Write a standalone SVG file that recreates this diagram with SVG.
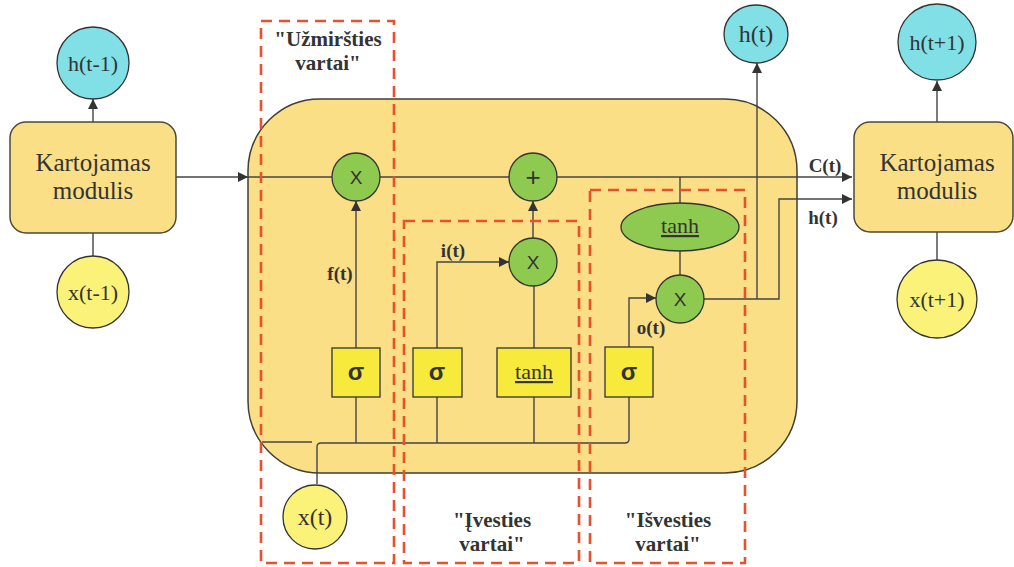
<svg xmlns="http://www.w3.org/2000/svg" width="1014" height="567" viewBox="0 0 1014 567">
<defs>
<style>
.mod{fill:#fadf86;stroke:#4a4a3a;stroke-width:1.5}
.cell{fill:#fadf86;stroke:#3f3f35;stroke-width:1.5}
.cy{fill:#80e0e6;stroke:#333;stroke-width:1.3}
.ye{fill:#fbf27a;stroke:#333;stroke-width:1.3}
.gr{fill:#8fca50;stroke:#333;stroke-width:1.3}
.sb{fill:#f7ea3c;stroke:#333;stroke-width:1.3}
.ln{fill:none;stroke:#444;stroke-width:1.4}
.dash{fill:none;stroke:#e9502e;stroke-width:2.6;stroke-dasharray:11 7}
.t{font-family:'Liberation Serif','Times New Roman','DejaVu Serif',serif;fill:#333;text-anchor:middle}
.tb{font-family:'Liberation Serif','Times New Roman','DejaVu Serif',serif;font-weight:700;fill:#333;text-anchor:middle}
.ts{font-family:'Liberation Sans',Arial,sans-serif;fill:#333;text-anchor:middle}
</style>
<marker id="ah" viewBox="0 0 10 10" refX="10" refY="5" markerWidth="10" markerHeight="10" markerUnits="userSpaceOnUse" orient="auto">
<path d="M0,0 L10,5 L0,10 z" fill="#333"/>
</marker>
</defs>

<g id="cell">
<rect class="cell" x="248" y="99" width="549" height="374" rx="72" ry="72"/>
</g>

<g id="connectors">
<line class="ln" x1="93" y1="122" x2="93" y2="99" marker-end="url(#ah)"/>
<line class="ln" x1="93" y1="233" x2="93" y2="257"/>
<line class="ln" x1="176" y1="177" x2="248" y2="177" marker-end="url(#ah)"/>
<line class="ln" x1="248" y1="177" x2="852" y2="177" marker-end="url(#ah)"/>
<line class="ln" x1="356" y1="443" x2="356" y2="201" marker-end="url(#ah)"/>
<polyline class="ln" points="437,443 437,262 509,262" marker-end="url(#ah)"/>
<line class="ln" x1="533" y1="238" x2="533" y2="201" marker-end="url(#ah)"/>
<line class="ln" x1="534" y1="443" x2="534" y2="286"/>
<polyline class="ln" points="629,348 629,298 656,298" marker-end="url(#ah)"/>
<line class="ln" x1="680" y1="177" x2="680" y2="203"/>
<line class="ln" x1="680" y1="251" x2="680" y2="275"/>
<polyline class="ln" points="704,299 779,299 779,199 852,199" marker-end="url(#ah)"/>
<line class="ln" x1="757" y1="299" x2="757" y2="63" marker-end="url(#ah)"/>
<line class="ln" x1="262" y1="442" x2="312" y2="442"/>
<path class="ln" d="M317,484 L317,447 Q317,443 321,443 L625,443 Q629,443 629,439 L629,397"/>
<line class="ln" x1="937" y1="122" x2="937" y2="81" marker-end="url(#ah)"/>
<line class="ln" x1="937" y1="232" x2="937" y2="260"/>
</g>

<g id="module-left">
<rect class="mod" x="10" y="122" width="166" height="111" rx="16" ry="16"/>
<text class="t" x="93" y="171" font-size="25">Kartojamas</text>
<text class="t" x="93" y="199" font-size="25">modulis</text>
</g>
<g id="h-prev">
<circle class="cy" cx="93" cy="63" r="36"/>
<text class="t" x="93" y="71" font-size="22">h(t-1)</text>
</g>
<g id="x-prev">
<circle class="ye" cx="93" cy="292" r="36"/>
<text class="t" x="93" y="300" font-size="22">x(t-1)</text>
</g>

<g id="module-right">
<rect class="mod" x="854" y="122" width="159" height="110" rx="16" ry="16"/>
<text class="t" x="937" y="171" font-size="25">Kartojamas</text>
<text class="t" x="937" y="199" font-size="25">modulis</text>
</g>
<g id="h-next">
<ellipse class="cy" cx="937" cy="42" rx="39" ry="38"/>
<text class="t" x="937" y="50" font-size="22">h(t+1)</text>
</g>
<g id="x-next">
<ellipse class="ye" cx="937" cy="299" rx="40" ry="39"/>
<text class="t" x="937" y="307" font-size="22">x(t+1)</text>
</g>
<g id="h-t">
<ellipse class="cy" cx="756" cy="34" rx="32" ry="29"/>
<text class="t" x="756" y="42" font-size="24">h(t)</text>
</g>
<g id="x-t">
<circle class="ye" cx="315" cy="517" r="32"/>
<text class="t" x="315" y="525" font-size="24">x(t)</text>
</g>

<g id="mul-forget">
<circle class="gr" cx="356" cy="177" r="24"/>
<text class="ts" x="356" y="184" font-size="19">X</text>
</g>
<g id="add">
<circle class="gr" cx="533" cy="177" r="24"/>
<text class="ts" x="533" y="186" font-size="26">+</text>
</g>
<g id="mul-input">
<circle class="gr" cx="533" cy="262" r="24"/>
<text class="ts" x="533" y="269" font-size="19">X</text>
</g>
<g id="mul-output">
<circle class="gr" cx="680" cy="299" r="24"/>
<text class="ts" x="680" y="306" font-size="19">X</text>
</g>
<g id="tanh-out">
<ellipse class="gr" cx="680" cy="227" rx="59" ry="24"/>
<text class="t" x="680" y="233" font-size="22" text-decoration="underline">tanh</text>
</g>

<g id="sigma-forget">
<rect class="sb" x="332" y="348" width="48" height="49"/>
<text class="ts" x="356" y="380" font-size="24" font-weight="bold">σ</text>
</g>
<g id="sigma-input">
<rect class="sb" x="413" y="348" width="49" height="49"/>
<text class="ts" x="437" y="380" font-size="24" font-weight="bold">σ</text>
</g>
<g id="tanh-input">
<rect class="sb" x="497" y="348" width="74" height="49"/>
<text class="t" x="534" y="379" font-size="22" text-decoration="underline">tanh</text>
</g>
<g id="sigma-output">
<rect class="sb" x="605" y="347" width="48" height="50"/>
<text class="ts" x="629" y="380" font-size="24" font-weight="bold">σ</text>
</g>

<g id="labels">
<text class="tb" x="340" y="280" font-size="19">f(t)</text>
<text class="tb" x="453" y="257" font-size="19">i(t)</text>
<text class="tb" x="651" y="334" font-size="19">o(t)</text>
<text class="tb" x="825" y="172" font-size="19">C(t)</text>
<text class="tb" x="823" y="224" font-size="19">h(t)</text>
</g>

<g id="forget-gate">
<rect class="dash" x="261" y="21" width="133" height="542"/>
<text class="tb" x="328" y="46" font-size="21">"Užmiršties</text>
<text class="tb" x="328" y="70" font-size="21">vartai"</text>
</g>
<g id="input-gate">
<rect class="dash" x="404" y="221" width="175" height="342"/>
<text class="tb" x="492" y="527" font-size="21">"Įvesties</text>
<text class="tb" x="492" y="551" font-size="21">vartai"</text>
</g>
<g id="output-gate">
<rect class="dash" x="590" y="190" width="155" height="373"/>
<text class="tb" x="668" y="527" font-size="21">"Išvesties</text>
<text class="tb" x="668" y="551" font-size="21">vartai"</text>
</g>
</svg>
